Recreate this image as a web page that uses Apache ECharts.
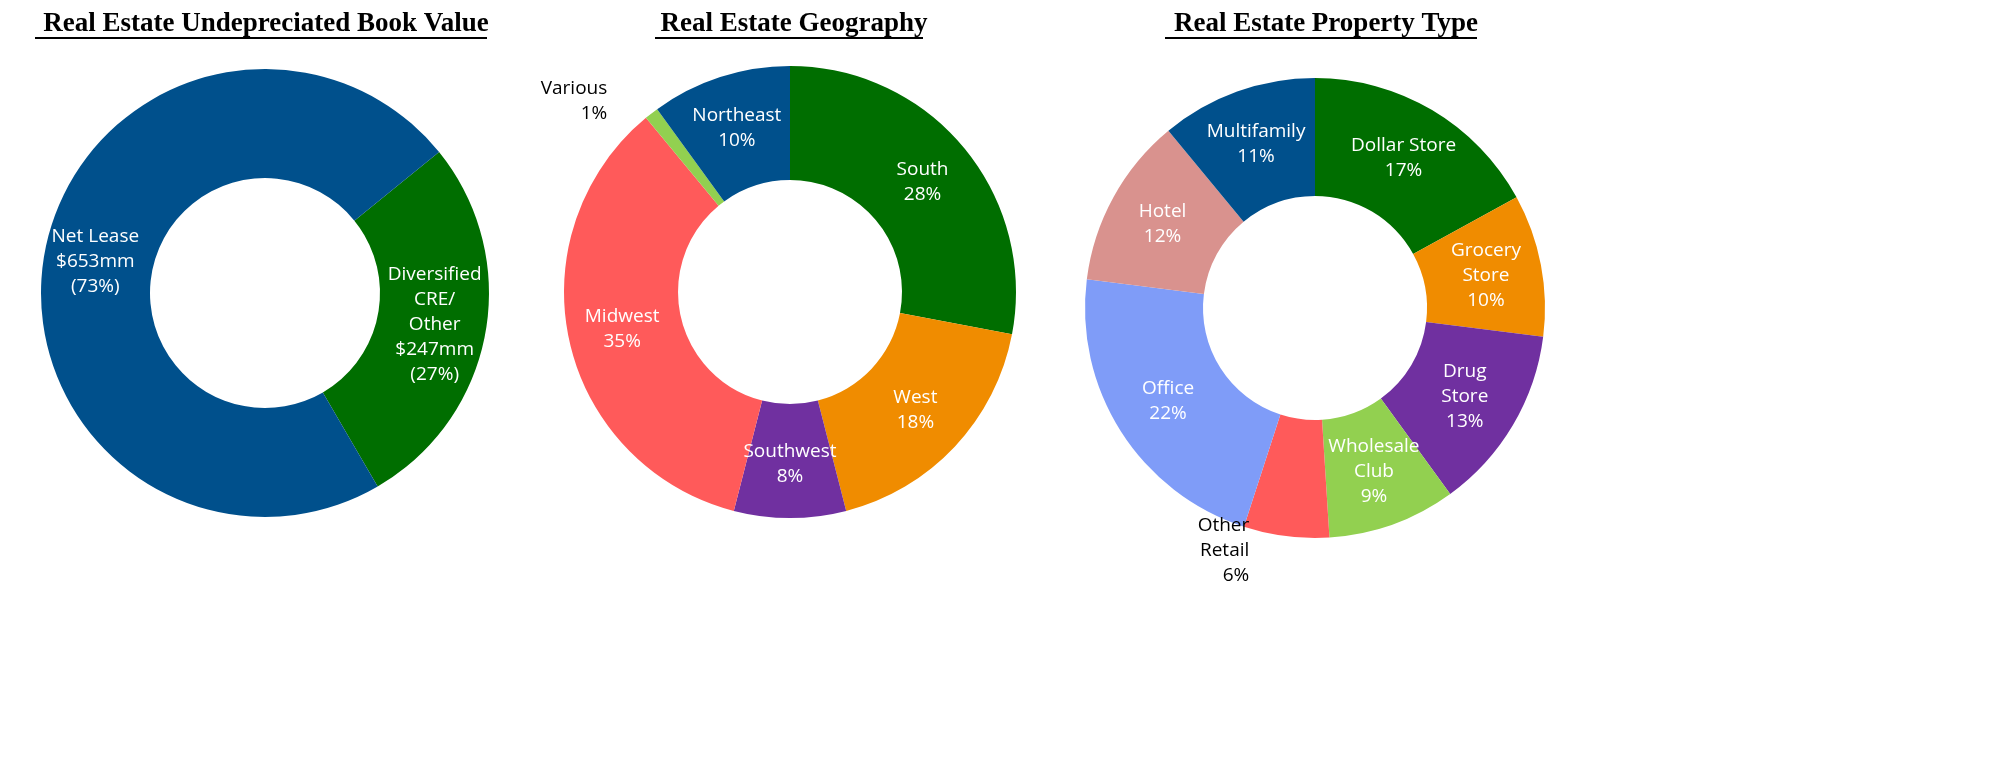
<!DOCTYPE html>
<html><head><meta charset="utf-8">
<script src="https://cdn.jsdelivr.net/npm/echarts@6/dist/echarts.min.js"></script>
<style>html,body{margin:0;padding:0;background:#fff}#c{width:1989px;height:767px}</style>
</head><body><div id="c"></div>
<script>
const titles = ['Real Estate Undepreciated Book Value','Real Estate Geography','Real Estate Property Type'];
const bookNames = ['Diversified\nCRE/\nOther\n$247mm\n(27%)','Net Lease\n$653mm\n(73%)'];
const bookValues = [247, 653];
const geoNames = ['South','West','Southwest','Midwest','Various','Northeast'];
const geoValues = [28, 18, 8, 35, 1, 10];
const typeNames = ['Dollar Store','Grocery\nStore','Drug\nStore','Wholesale\nClub','Other\nRetail','Office','Hotel','Multifamily'];
const typeValues = [17, 10, 13, 9, 6, 22, 12, 11];

const C = {blue:'#00508C',green:'#006E00',orange:'#F08C00',purple:'#7030A0',red:'#FF5A5A',lgreen:'#92D050',pink:'#D9928E',lblue:'#7F9CF8'};
const bookColors=[C.green,C.blue];
const geoColors=[C.green,C.orange,C.purple,C.red,C.lgreen,C.blue];
const typeColors=[C.green,C.orange,C.purple,C.lgreen,C.red,C.lblue,C.pink,C.blue];
const outside = {Various:true,'Other\nRetail':true};

function mk(names, vals, colors){
  return names.map((n,i)=>{
    const o={name:n,value:vals[i],itemStyle:{color:colors[i]}};
    if(outside[n]) o.label={position:'outside',color:'#000',distance:8,align:'center'};
    return o;
  });
}
const lab = {show:true,position:'inside',color:'#fff',fontSize:19,fontFamily:'Open Sans',lineHeight:25};
const chart = echarts.init(document.getElementById('c'));
const titleX=[261,789,1321];
chart.setOption({
  animation:false,
  title: titles.map((t,i)=>({text:t,left:titleX[i],top:6,textAlign:'center',textStyle:{fontFamily:'Liberation Serif',fontWeight:'bold',fontSize:27,color:'#000'}})),
  graphic:[
    {type:'rect',shape:{x:35,y:37,width:452,height:2},style:{fill:'#000'}},
    {type:'rect',shape:{x:655,y:37,width:268,height:2},style:{fill:'#000'}},
    {type:'rect',shape:{x:1165,y:37,width:312,height:2},style:{fill:'#000'}}
  ],
  series:[
    {type:'pie',center:[265,293],radius:[115,224],startAngle:39,data:mk(bookNames,bookValues,bookColors),
     label:Object.assign({},lab,{formatter:'{b}'}),labelLine:{show:false}},
    {type:'pie',center:[790,292],radius:[112,226],startAngle:90,data:mk(geoNames,geoValues,geoColors),
     label:Object.assign({},lab,{formatter:'{b}\n{c}%'}),labelLine:{show:false}},
    {type:'pie',center:[1315,308],radius:[112,230],startAngle:90,data:mk(typeNames,typeValues,typeColors),
     label:Object.assign({},lab,{formatter:'{b}\n{c}%'}),labelLine:{show:false}}
  ]
});
</script></body></html>
